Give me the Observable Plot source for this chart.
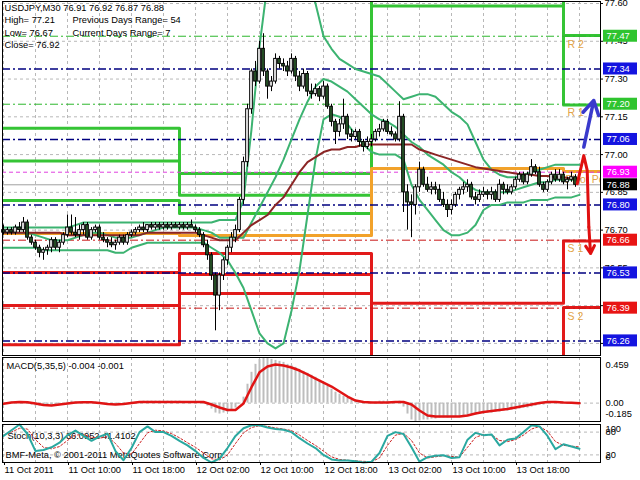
<!DOCTYPE html>
<html>
<head>
<meta charset="utf-8">
<script src="https://cdn.jsdelivr.net/npm/d3@7"></script>
<script src="https://cdn.jsdelivr.net/npm/@observablehq/plot@0.6"></script>
<style>
  html, body { margin: 0; padding: 0; background: #fff; }
  #chart { position: relative; width: 640px; height: 480px; overflow: hidden; background: #fff; }
  #chart > svg { position: absolute; left: 0; }
</style>
</head>
<body>
<div id="chart"></div>
<script>
// ---------------- DATA ----------------
const symbol = "USDJPY,M30";
const lastBar = [76.91, 76.92, 76.87, 76.88];
const prevDayHigh = 77.21, prevDayLow = 76.67, prevDayClose = 76.92;
const previousDaysRange = 54, currentDaysRange = 7;
const firstBarTime = "2011-10-11T02:00Z"; // M30 bars

const opens = [
76.70,76.69,76.70,76.69,76.71,76.70,76.73,76.67,76.65,76.63,
76.61,76.62,76.63,76.66,76.63,76.65,76.68,76.71,76.69,76.68,
76.70,76.72,76.67,76.70,76.71,76.67,76.66,76.65,76.64,76.65,
76.67,76.65,76.68,76.69,76.70,76.71,76.70,76.72,76.71,76.72,
76.71,76.72,76.71,76.72,76.71,76.72,76.71,76.72,76.71,76.70,
76.68,76.64,76.60,76.52,76.44,76.52,76.58,76.63,76.67,76.70,
76.82,76.97,77.18,77.33,77.29,77.42,77.33,77.27,77.29,77.38,
77.36,77.35,77.33,77.38,77.31,77.27,77.32,77.25,77.24,77.26,
77.23,77.27,77.19,77.13,77.09,77.12,77.15,77.08,77.07,77.09,
77.05,77.03,77.05,77.06,77.09,77.10,77.13,77.09,77.08,77.06,
77.15,76.85,76.81,76.80,76.87,76.94,76.88,76.86,76.87,76.86,
76.82,76.80,76.78,76.80,76.84,76.86,76.87,76.88,76.83,76.82,
76.84,76.85,76.84,76.85,76.82,76.88,76.86,76.85,76.87,76.90,
76.92,76.89,76.92,76.95,76.93,76.88,76.86,76.89,76.92,76.90,
76.92,76.89,76.90,76.91];
const highs = [
76.72,76.71,76.71,76.72,76.73,76.75,76.74,76.68,76.66,76.64,
76.63,76.64,76.67,76.67,76.66,76.69,76.76,76.76,76.75,76.72,
76.73,76.73,76.71,76.72,76.72,76.69,76.67,76.67,76.66,76.68,
76.68,76.69,76.70,76.71,76.72,76.73,76.72,76.73,76.73,76.73,
76.73,76.73,76.73,76.73,76.73,76.73,76.73,76.74,76.72,76.71,
76.69,76.66,76.61,76.53,76.53,76.59,76.64,76.69,76.72,76.83,
76.99,77.20,77.34,77.37,77.45,77.48,77.34,77.31,77.40,77.39,
77.38,77.37,77.40,77.39,77.33,77.34,77.33,77.28,77.28,77.27,
77.29,77.28,77.20,77.14,77.14,77.22,77.16,77.10,77.10,77.10,
77.06,77.07,77.08,77.10,77.12,77.14,77.14,77.11,77.09,77.21,
77.16,76.88,76.84,76.88,76.97,76.95,76.91,76.89,76.89,76.88,
76.85,76.82,76.82,76.85,76.87,76.89,76.90,76.89,76.85,76.86,
76.87,76.86,76.87,76.86,76.90,76.89,76.88,76.88,76.91,76.93,
76.93,76.93,76.98,76.96,76.95,76.89,76.90,76.93,76.94,76.94,
76.93,76.91,76.93,76.92];
const lows = [
76.68,76.68,76.68,76.68,76.69,76.69,76.66,76.64,76.62,76.59,
76.58,76.60,76.61,76.62,76.61,76.64,76.67,76.68,76.67,76.66,
76.68,76.66,76.66,76.69,76.66,76.65,76.63,76.63,76.62,76.64,
76.64,76.64,76.67,76.68,76.69,76.69,76.69,76.70,76.70,76.70,
76.70,76.70,76.70,76.71,76.70,76.70,76.70,76.71,76.69,76.67,
76.63,76.58,76.50,76.30,76.38,76.50,76.56,76.61,76.65,76.69,
76.80,76.95,77.16,77.27,77.28,77.31,77.22,77.25,77.28,77.34,
77.33,77.31,77.32,77.29,77.25,77.26,77.23,77.22,77.23,77.21,
77.22,77.18,77.11,77.04,77.07,77.10,77.06,77.05,77.06,77.03,
77.01,77.02,77.03,77.05,77.07,77.09,77.08,77.07,77.05,77.05,
76.77,76.70,76.67,76.76,76.85,76.87,76.85,76.84,76.84,76.81,
76.79,76.75,76.76,76.79,76.82,76.84,76.85,76.82,76.80,76.81,
76.83,76.82,76.82,76.81,76.81,76.84,76.84,76.84,76.86,76.89,
76.88,76.88,76.91,76.92,76.87,76.85,76.85,76.88,76.89,76.89,
76.88,76.86,76.89,76.87];
const closes = [
76.69,76.70,76.69,76.71,76.70,76.73,76.67,76.65,76.63,76.61,
76.62,76.63,76.66,76.63,76.65,76.68,76.71,76.69,76.68,76.70,
76.72,76.67,76.70,76.71,76.67,76.66,76.65,76.64,76.65,76.67,
76.65,76.68,76.69,76.70,76.71,76.70,76.72,76.71,76.72,76.71,
76.72,76.71,76.72,76.71,76.72,76.71,76.72,76.71,76.70,76.68,
76.64,76.60,76.52,76.44,76.52,76.58,76.63,76.67,76.70,76.82,
76.97,77.18,77.33,77.29,77.42,77.33,77.27,77.29,77.38,77.36,
77.35,77.33,77.38,77.31,77.27,77.32,77.25,77.24,77.26,77.23,
77.27,77.19,77.13,77.09,77.12,77.15,77.08,77.07,77.09,77.05,
77.03,77.05,77.06,77.09,77.10,77.13,77.09,77.08,77.06,77.15,
76.85,76.81,76.80,76.87,76.94,76.88,76.86,76.87,76.86,76.82,
76.80,76.78,76.80,76.84,76.86,76.87,76.88,76.83,76.82,76.84,
76.85,76.84,76.85,76.82,76.88,76.86,76.85,76.87,76.90,76.92,
76.89,76.92,76.95,76.93,76.88,76.86,76.89,76.92,76.90,76.92,
76.89,76.90,76.91,76.88];
// MACD main (histogram), one per bar
const macdHist = [
-0.01,0.00,0.01,0.01,0.00,0.01,-0.01,-0.02,-0.03,-0.03,
-0.03,-0.03,-0.02,-0.02,-0.01,0.00,0.01,0.02,0.01,0.01,
0.01,0.00,0.00,0.01,-0.01,-0.01,-0.02,-0.02,-0.02,-0.02,
-0.01,0.00,0.01,0.01,0.01,0.02,0.02,0.02,0.02,0.02,
0.02,0.02,0.02,0.02,0.02,0.01,0.01,0.01,0.00,0.00,
-0.01,-0.03,-0.06,-0.10,-0.11,-0.10,-0.09,-0.07,-0.05,-0.01,
0.06,0.19,0.31,0.39,0.44,0.459,0.45,0.44,0.43,0.42,
0.41,0.39,0.38,0.36,0.34,0.32,0.30,0.28,0.26,0.23,
0.20,0.17,0.14,0.11,0.09,0.07,0.05,0.03,0.02,0.01,
0.00,0.00,0.01,0.01,0.02,0.02,0.02,0.01,0.01,0.02,
-0.04,-0.11,-0.17,-0.185,-0.18,-0.17,-0.17,-0.16,-0.16,-0.15,
-0.15,-0.15,-0.14,-0.14,-0.14,-0.13,-0.13,-0.12,-0.12,-0.11,
-0.11,-0.10,-0.10,-0.09,-0.09,-0.08,-0.08,-0.07,-0.07,-0.06,
-0.05,-0.05,-0.04,-0.03,-0.02,-0.02,-0.01,0.00,0.00,0.01,
0.00,-0.01,0.00,-0.004];

// hourly readings of the indicator lines (11 Oct 02:00 ... 14 Oct 02:00)
const bbUpper = [
76.71,76.71,76.71,76.71,76.71,76.71,76.71,76.71,76.71,76.72,
76.73,76.73,76.73,76.73,76.73,76.73,76.73,76.73,76.73,76.73,
76.73,76.73,76.73,76.73,76.73,76.73,76.73,76.74,76.74,76.74,
76.82,77.10,77.43,77.68,77.72,77.75,77.76,77.74,77.69,77.60,
77.47,77.42,77.38,77.36,77.34,77.33,77.32,77.31,77.28,77.25,
77.22,77.23,77.24,77.24,77.23,77.20,77.17,77.15,77.12,77.05,
76.98,76.94,76.92,76.91,76.91,76.92,76.93,76.94,76.95,76.96,
76.96,76.96,76.96];
const bbMiddle = [
76.69,76.69,76.69,76.69,76.68,76.67,76.66,76.66,76.66,76.67,
76.68,76.69,76.69,76.68,76.67,76.67,76.67,76.68,76.69,76.70,
76.71,76.71,76.71,76.71,76.71,76.70,76.69,76.67,76.67,76.67,
76.67,76.73,76.79,76.85,76.91,76.98,77.06,77.14,77.21,77.27,
77.30,77.29,77.27,77.25,77.22,77.19,77.16,77.14,77.13,77.11,
77.08,77.05,77.03,77.00,76.98,76.96,76.93,76.91,76.88,76.86,
76.85,76.85,76.85,76.85,76.86,76.87,76.88,76.89,76.89,76.90,
76.90,76.90,76.90];
const bbLower = [
76.63,76.63,76.63,76.63,76.63,76.62,76.62,76.62,76.62,76.62,
76.62,76.62,76.62,76.62,76.61,76.61,76.63,76.64,76.65,76.65,
76.65,76.65,76.65,76.65,76.65,76.65,76.63,76.61,76.58,76.53,
76.47,76.38,76.29,76.25,76.23,76.25,76.38,76.54,76.76,76.98,
77.14,77.16,77.15,77.12,77.08,77.04,77.01,77.00,77.00,77.00,
76.98,76.88,76.82,76.78,76.74,76.70,76.68,76.68,76.69,76.72,
76.78,76.80,76.80,76.81,76.81,76.81,76.82,76.82,76.82,76.83,
76.83,76.83,76.84];
const maSlow = [
76.69,76.69,76.69,76.69,76.69,76.69,76.69,76.69,76.68,76.68,
76.68,76.68,76.68,76.68,76.68,76.68,76.68,76.68,76.69,76.69,
76.69,76.69,76.69,76.69,76.69,76.68,76.67,76.66,76.66,76.66,
76.69,76.72,76.74,76.76,76.80,76.83,76.88,76.93,76.97,76.99,
77.01,77.02,77.02,77.03,77.03,77.04,77.04,77.04,77.04,77.04,
77.04,77.04,77.02,77.01,77.00,76.99,76.98,76.97,76.96,76.95,
76.945,76.94,76.935,76.93,76.925,76.92,76.92,76.915,76.915,76.91,
76.91,76.905,76.905];
const macdSignal = [
-0.007,0.006,0.011,0.009,-0.004,-0.019,-0.024,-0.014,-0.004,0.006,
0.009,0.009,0.001,-0.009,-0.014,-0.009,0.001,0.011,0.011,0.011,
0.011,0.011,0.011,0.011,0.011,0.011,-0.014,-0.044,-0.069,-0.069,
-0.004,0.160,0.310,0.368,0.388,0.378,0.358,0.328,0.288,0.247,
0.207,0.167,0.117,0.066,0.026,0.011,0.006,0.006,0.006,0.011,
0.011,-0.014,-0.074,-0.125,-0.135,-0.135,-0.135,-0.135,-0.125,-0.105,
-0.090,-0.079,-0.069,-0.059,-0.044,-0.029,-0.014,0.001,0.011,0.011,
0.006,0.003,-0.001];
const stochK = [
70,85,100,75,30,33,40,52,72,84,
70,57,68,76,30,6,38,80,95,80,
80,70,57,45,30,12,0,10,38,70,
90,98,98,92,88,86,80,64,50,38,
20,8,5,5,3,0,2,25,70,80,
75,40,2,14,18,19,12,14,60,78,
72,74,45,60,63,80,98,95,70,35,
48,42,36];
const stochD = [
72,80,90,88,60,40,36,42,58,72,
74,66,64,68,50,25,22,50,78,85,
83,76,65,52,40,25,10,7,20,50,
78,92,97,95,91,88,84,72,58,45,
30,15,8,6,4,3,2,12,45,72,
77,58,25,12,15,18,16,14,40,66,
74,73,58,55,60,72,88,95,82,55,
45,43,41];

// daily pivot levels (11, 12, 13, 14 Oct)
const dayStarts = ["2011-10-11", "2011-10-12", "2011-10-13", "2011-10-14"];
const dayEnd = "2011-10-15";
const pivotR3 = [77.105, 76.925, 78.77, 77.74];
const pivotR2 = [76.975, 76.838, 78.13, 77.473];
const pivotR1 = [76.818, 76.766, 77.59, 77.197];
const pivotP  = [76.687, 76.679, 76.945, 76.933];
const pivotS1 = [76.532, 76.607, 76.41, 76.657];
const pivotS2 = [76.401, 76.524, 75.77, 76.393];
const pivotS3 = [76.245, 76.448, 75.13, 76.12];

// projected levels for the current day (dash-dot lines + price tags)
const levelValues = [77.47, 77.34, 77.20, 77.06, 76.93, 76.80, 76.66, 76.53, 76.39, 76.26];
const levelKinds  = ["R", "M", "R", "M", "P", "M", "S", "M", "S", "M"];
const bidPrice = 76.88;
const levelNames = ["R 2", "R 1", "S 1", "S 2"];
const levelNameValues = [77.47, 77.20, 76.66, 76.39];
const pivotName = "Pivot Point", pivotNameValue = 76.93;

// forecast strokes at the right edge
const fcUpTimes = ["2011-10-14T02:32Z", "2011-10-14T03:47Z"];
const fcUpPrices = [77.03, 77.215];
const fcDownTimes = ["2011-10-14T01:43Z", "2011-10-14T02:32Z", "2011-10-14T02:58Z", "2011-10-14T03:10Z", "2011-10-14T03:23Z"];
const fcDownPrices = [76.884, 76.996, 76.937, 76.712, 76.607];

// axes
const priceTicks = [77.60, 77.45, 77.30, 77.15, 77.00, 76.85, 76.70, 76.55, 76.40, 76.25];
const xTickTimes = ["2011-10-11T02:00Z","2011-10-11T10:00Z","2011-10-11T18:00Z","2011-10-12T02:00Z","2011-10-12T10:00Z","2011-10-12T18:00Z","2011-10-13T02:00Z","2011-10-13T10:00Z","2011-10-13T18:00Z"];
const xTickLabels = ["11 Oct 2011","11 Oct 10:00","11 Oct 18:00","12 Oct 02:00","12 Oct 10:00","12 Oct 18:00","13 Oct 02:00","13 Oct 10:00","13 Oct 18:00"];
const macdName = "MACD(5,35,5)", macdLast = [-0.004, -0.001];
const stochName = "Stoch(10,3,3)", stochLast = [36.0952, 41.4102];
const copyright = "BMF-Meta, \u00a9 2001-2011 MetaQuotes Software Corp.";

// ---------------- BUILD ----------------
const FONT = "'Liberation Sans', Arial, sans-serif";
const FS = 9.3;
const MIN = 60e3, HOUR = 60 * MIN;
const t0 = new Date(firstBarTime).getTime();
const xDomain = [new Date(t0 - 7.5 * MIN), new Date(t0 + 74.625 * HOUR)];
const xEnd = xDomain[1];
const gridTimes = d3.utcHours(new Date(t0), xEnd, 4);
const day4 = new Date(dayStarts[3] + "T00:00Z");

const bars = closes.map((c, i) => ({t: new Date(t0 + i * 30 * MIN), o: opens[i], h: highs[i], l: lows[i], c, hist: macdHist[i]}));
const hourly = bbUpper.map((u, h) => ({t: new Date(t0 + h * HOUR), u, m: bbMiddle[h], lo: bbLower[h], ma: maSlow[h], k: stochK[h], d: stochD[h], s: macdSignal[h]}));
const stepSeries = (vals) => dayStarts.map((d, i) => ({t: new Date(d + "T00:00Z"), v: vals[i]})).concat([{t: new Date(dayEnd + "T00:00Z"), v: vals[vals.length - 1]}]);
const levels = levelValues.map((v, i) => ({v, kind: levelKinds[i]}));
const boxes = levels.concat([{v: bidPrice, kind: "B"}]);
const names = levelNames.map((n, i) => ({n, v: levelNameValues[i], t: day4}));
const fcUp = fcUpTimes.map((t, i) => ({t: new Date(t), v: fcUpPrices[i]}));
const fcDown = fcDownTimes.map((t, i) => ({t: new Date(t), v: fcDownPrices[i]}));
const labelByTime = new Map(xTickTimes.map((t, i) => [+new Date(t), xTickLabels[i]]));

const GREEN = "#35C435", ORANGE = "#F2A22A", RED = "#E21A1A", NAVY = "#000080";
const boxColor = {R: "#2FC42F", M: "#1414E0", P: "#FF00FF", S: "#E81414", B: "#000000"};
const lineColor = {R: "#2DB82D", M: NAVY, P: "#E040E0", S: "#C81414"};
const lineDash = {R: "8,3,2,3", M: "8,3,2,3", P: "4,3", S: "8,3,2,3"};
const GRID = {stroke: "#b8b8b8", strokeOpacity: 1, strokeDasharray: "3,3"};
const BB = "#3CB371", BEAR = "#2A5A2A", LABEL = "#E3A447";
const style = {fontFamily: FONT, fontSize: FS + "px", background: "transparent", color: "black", overflow: "visible"};

const X = {type: "utc", domain: xDomain, axis: null};

const main = Plot.plot({
  width: 640, height: 356, marginTop: 1, marginBottom: 1, marginLeft: 2, marginRight: 40,
  style, x: X, y: {domain: [76.202, 77.608], axis: null},
  marks: [
    Plot.gridX({ticks: gridTimes, ...GRID}),
    Plot.gridY({ticks: priceTicks, ...GRID}),
    Plot.ruleY([bidPrice], {stroke: "#a0a0a0"}),
    ...[pivotR3, pivotR2, pivotR1].map(vals => Plot.line(stepSeries(vals), {x: "t", y: "v", curve: "step-after", stroke: GREEN, strokeWidth: 3, clip: true})),
    ...[pivotS1, pivotS2, pivotS3].map(vals => Plot.line(stepSeries(vals), {x: "t", y: "v", curve: "step-after", stroke: RED, strokeWidth: 3, clip: true})),
    Plot.line(stepSeries(pivotP), {x: "t", y: "v", curve: "step-after", stroke: ORANGE, strokeWidth: 3, clip: true}),
    ...["R", "M", "P", "S"].map(k => Plot.ruleY(levels.filter(d => d.kind === k), {y: "v", stroke: lineColor[k], strokeWidth: k === "M" ? 1.5 : 1, strokeDasharray: lineDash[k]})),
    Plot.text([pivotName], {x: () => day4, y: () => pivotNameValue, text: d => d, dx: 2, dy: 7, textAnchor: "start", fill: LABEL, fontSize: 10.5, clip: true}),
    Plot.line(hourly, {x: "t", y: "u", stroke: BB, strokeWidth: 2, clip: true}),
    Plot.line(hourly, {x: "t", y: "m", stroke: BB, strokeWidth: 2, clip: true}),
    Plot.line(hourly, {x: "t", y: "lo", stroke: BB, strokeWidth: 2, clip: true}),
    Plot.line(hourly, {x: "t", y: "ma", stroke: "#8B2525", strokeWidth: 2, clip: true}),
    Plot.ruleX(bars, {x: "t", y1: "l", y2: "h", stroke: "black", strokeWidth: 1}),
    Plot.rect(bars.filter(d => d.c !== d.o), {
      x1: d => new Date(+d.t - 10 * MIN), x2: d => new Date(+d.t + 10 * MIN), y1: "o", y2: "c",
      fill: d => d.c > d.o ? "white" : BEAR, stroke: "black", strokeWidth: 1}),
    Plot.ruleY(bars.filter(d => d.c === d.o), {y: "o", x1: d => new Date(+d.t - 10 * MIN), x2: d => new Date(+d.t + 10 * MIN), stroke: "black"}),
    Plot.text(names, {x: "t", y: "v", text: "n", dx: 4, dy: 8, textAnchor: "start", fill: LABEL, fontSize: 10.5}),
    Plot.arrow([fcUp], {x1: d => d[0].t, y1: d => d[0].v, x2: d => d[1].t, y2: d => d[1].v, stroke: "#3A3ACC", strokeWidth: 3.5, headLength: 9}),
    Plot.line(fcDown.slice(0, 4), {x: "t", y: "v", stroke: "#E01010", strokeWidth: 3}),
    Plot.arrow([fcDown], {x1: d => d[3].t, y1: d => d[3].v, x2: d => d[4].t, y2: d => d[4].v, stroke: "#E01010", strokeWidth: 3, headLength: 9}),
    Plot.text([`${symbol} ${lastBar.map(v => v.toFixed(2)).join(" ")}`], {frameAnchor: "top-left", dx: 2, dy: 7, lineAnchor: "middle", textAnchor: "start"}),
    Plot.text([`High= ${prevDayHigh.toFixed(2)}`], {frameAnchor: "top-left", dx: 2, dy: 19, lineAnchor: "middle", textAnchor: "start"}),
    Plot.text([`Low= ${prevDayLow.toFixed(2)}`], {frameAnchor: "top-left", dx: 2, dy: 32, lineAnchor: "middle", textAnchor: "start"}),
    Plot.text([`Close= ${prevDayClose.toFixed(2)}`], {frameAnchor: "top-left", dx: 2, dy: 44, lineAnchor: "middle", textAnchor: "start"}),
    Plot.text([`Previous Days Range= ${previousDaysRange}`], {frameAnchor: "top-left", dx: 70, dy: 19, lineAnchor: "middle", textAnchor: "start"}),
    Plot.text([`Current Days Range= ${currentDaysRange}`], {frameAnchor: "top-left", dx: 70, dy: 32, lineAnchor: "middle", textAnchor: "start"}),
    Plot.frame({stroke: "black"}),
    Plot.axisY({anchor: "right", ticks: priceTicks, tickFormat: ".2f", tickSize: 2, tickPadding: 2, fontSize: FS, label: null}),
    Plot.rect(boxes, {x1: () => xEnd, x2: () => xEnd, y1: "v", y2: "v", insetLeft: 3, insetRight: -37, insetTop: -6, insetBottom: -6, fill: d => boxColor[d.kind]}),
    Plot.text(boxes, {x: () => xEnd, y: "v", text: d => d.v.toFixed(2), dx: 6, textAnchor: "start", fill: "white", fontSize: FS})
  ]
});
main.style.top = "0px";

const macd = Plot.plot({
  width: 640, height: 66, marginTop: 1, marginBottom: 1, marginLeft: 2, marginRight: 40,
  style, x: X, y: {domain: [-0.185, 0.459], axis: null},
  marks: [
    Plot.gridX({ticks: gridTimes, ...GRID}),
    Plot.ruleY([0], GRID),
    Plot.ruleX(bars, {x: "t", y1: 0, y2: "hist", stroke: "#bdbdbd", strokeWidth: 2}),
    Plot.text([`${macdName} ${macdLast.map(v => v.toFixed(3)).join(" ")}`], {frameAnchor: "top-left", dx: 4, dy: 9, lineAnchor: "middle", textAnchor: "start"}),
    Plot.line(hourly, {x: "t", y: "s", stroke: "#E01414", strokeWidth: 2.5}),
    Plot.frame({stroke: "black"}),
    Plot.text([0.459], {x: () => xEnd, y: d => d, text: d => d.toFixed(3), dx: 5, dy: 8, textAnchor: "start"}),
    Plot.text([0], {x: () => xEnd, y: d => d, text: d => d.toFixed(2), dx: 5, textAnchor: "start"}),
    Plot.text([-0.185], {x: () => xEnd, y: d => d, text: d => d.toFixed(3), dx: 5, dy: -7, textAnchor: "start"})
  ]
});
macd.style.top = "356px";

const stoch = Plot.plot({
  width: 640, height: 58, marginTop: 2, marginBottom: 18, marginLeft: 2, marginRight: 40,
  style, x: X, y: {domain: [0, 100], axis: null},
  marks: [
    Plot.gridX({ticks: gridTimes, ...GRID}),
    Plot.ruleY([80, 20], GRID),
    Plot.text([`${stochName} ${stochLast.map(v => v.toFixed(4)).join(" ")}`], {frameAnchor: "top-left", dx: 5, dy: 12, lineAnchor: "middle", textAnchor: "start"}),
    Plot.text([copyright], {frameAnchor: "top-left", dx: 3, dy: 31, lineAnchor: "middle", textAnchor: "start"}),
    Plot.line(hourly, {x: "t", y: "d", stroke: "#CC2222", strokeWidth: 1, strokeDasharray: "2,2"}),
    Plot.line(hourly, {x: "t", y: "k", stroke: "#2AA8A0", strokeWidth: 2}),
    Plot.frame({stroke: "black"}),
    Plot.text([100], {x: () => xEnd, y: d => d, text: d => String(d), dx: 5, dy: 5, textAnchor: "start"}),
    Plot.text([80, 20], {x: () => xEnd, y: d => d, text: d => String(d), dx: 5, textAnchor: "start"}),
    Plot.text([0], {x: () => xEnd, y: d => d, text: d => String(d), dx: 5, dy: -5, textAnchor: "start"}),
    Plot.axisX({ticks: xTickTimes.map(t => new Date(t)), tickFormat: d => labelByTime.get(+d), tickSize: 3, tickPadding: 1, textAnchor: "start", dx: 1, fontSize: FS, label: null})
  ]
});
stoch.style.top = "422px";

const root = document.getElementById("chart");
root.append(main, macd, stoch);
</script>
</body>
</html>
